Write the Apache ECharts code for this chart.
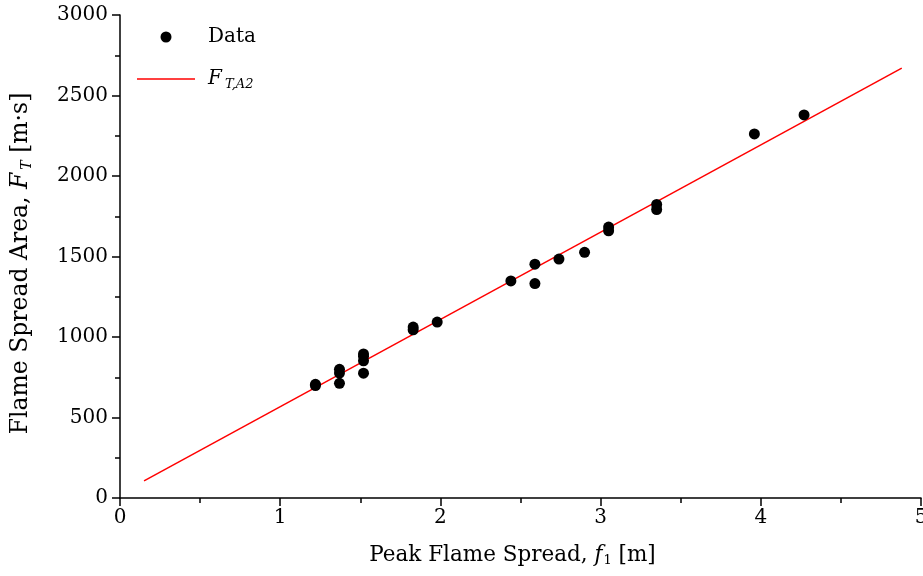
<!DOCTYPE html>
<html>
<head>
<meta charset="utf-8">
<script src="https://cdn.jsdelivr.net/npm/echarts@6/dist/echarts.min.js"></script>
<style>
  html, body { margin: 0; padding: 0; background: #fff; }
  #chart { width: 923px; height: 576px; }
</style>
</head>
<body>
<div id="chart"></div>
<script>
// Measured peak flame spread f1 [m] and flame spread area FT [m·s]
const spread = [1.22, 1.22, 1.37, 1.37, 1.37, 1.52, 1.52, 1.52, 1.52, 1.83, 1.83, 1.98,
                2.44, 2.59, 2.59, 2.74, 2.90, 3.05, 3.05, 3.35, 3.35, 3.96, 4.27];
const area = [698, 706, 799, 776, 712, 895, 880, 852, 775, 1062, 1045, 1093,
              1348, 1452, 1332, 1484, 1526, 1683, 1660, 1823, 1792, 2261, 2379];
// Fitted relation F_T,A2 end points
const fitX = [0.15, 4.88];
const fitY = [106, 2670];

const xTicks = [0, 1, 2, 3, 4, 5];
const yTicks = [0, 500, 1000, 1500, 2000, 2500, 3000];

const FONT = '"DejaVu Serif", "Liberation Serif", serif';
const txt = { fontFamily: FONT, fontSize: 20, color: '#000' };

// rich text styles with italic symbols and subscripts, per font size
function richSet(fs, sub, drop, lead) {
  return {
    n: { fontFamily: FONT, fontSize: fs, color: '#000', padding: [0, 0, 0, lead || 0] },
    m: { fontFamily: FONT, fontSize: fs, color: '#000' },
    i: { fontFamily: FONT, fontSize: fs, color: '#000', fontStyle: 'italic', padding: [0, 0, 0, lead || 0] },
    s: { fontFamily: FONT, fontSize: sub, color: '#000', fontStyle: 'italic', verticalAlign: 'bottom', padding: [drop, 0, 0, 3] },
    u: { fontFamily: FONT, fontSize: sub, color: '#000', verticalAlign: 'bottom', padding: [drop, 0, 0, 1] }
  };
}

const chart = echarts.init(document.getElementById('chart'), null, { renderer: 'canvas' });

const axisCommon = {
  axisLine: { show: true, lineStyle: { color: '#000', width: 1.5 } },
  axisTick: { show: true, inside: false, length: 8, lineStyle: { color: '#000', width: 1.5 } },
  minorTick: { show: true, splitNumber: 2, length: 5, lineStyle: { color: '#000', width: 1.5 } },
  splitLine: { show: false }
};

chart.setOption({
  animation: false,
  backgroundColor: '#fff',
  grid: { left: 120, right: 2, top: 15, bottom: 78, containLabel: false, outerBoundsMode: 'none' },
  legend: {
    orient: 'vertical',
    left: 137,
    top: 27,
    padding: 0,
    itemWidth: 58,
    itemHeight: 11,
    itemGap: 22,
    symbolKeepAspect: true,
    textStyle: { fontFamily: FONT, fontSize: 20, color: '#000', rich: richSet(20, 13, 12, 8) },
    formatter: function (name) {
      return name === 'fit' ? '{i|F}{s|T,A2}' : '{n|' + name + '}';
    },
    data: [
      { name: 'Data', icon: 'circle', itemStyle: { color: '#000', opacity: 1 } },
      { name: 'fit', icon: 'path://M0,0 L58,0 L58,1.5 L0,1.5 Z', itemStyle: { color: '#ff0000' } }
    ]
  },
  xAxis: Object.assign({}, axisCommon, {
    type: 'value',
    min: xTicks[0],
    max: xTicks[xTicks.length - 1],
    interval: 1,
    name: '{m|Peak Flame Spread, }{i|f}{u|1}{m| [m]}',
    nameLocation: 'middle',
    nameGap: 45,
    nameTextStyle: { rich: richSet(21.5, 13, 11, 0), padding: [0, 16, 0, 0] },
    axisLabel: Object.assign({}, txt, { margin: 10 })
  }),
  yAxis: Object.assign({}, axisCommon, {
    type: 'value',
    min: yTicks[0],
    max: yTicks[yTicks.length - 1],
    interval: 500,
    name: '{m|Flame Spread Area, }{i|F}{s|T}{m| [m·s]}',
    nameLocation: 'middle',
    nameGap: 86,
    nameTextStyle: { rich: richSet(23.5, 14, 12, 0), padding: [0, 14, 0, 0] },
    axisLabel: Object.assign({}, txt, { margin: 12, formatter: function (v) { return String(v); } })
  }),
  series: [
    {
      name: 'Data',
      type: 'scatter',
      symbol: 'circle',
      symbolSize: 11,
      itemStyle: { color: '#000', opacity: 1 },
      data: spread.map((v, k) => [v, area[k]]),
      z: 3
    },
    {
      name: 'fit',
      type: 'line',
      showSymbol: false,
      symbol: 'none',
      lineStyle: { color: '#ff0000', width: 1.5 },
      itemStyle: { color: '#ff0000' },
      data: fitX.map((v, k) => [v, fitY[k]]),
      z: 2
    }
  ]
});
</script>
</body>
</html>
